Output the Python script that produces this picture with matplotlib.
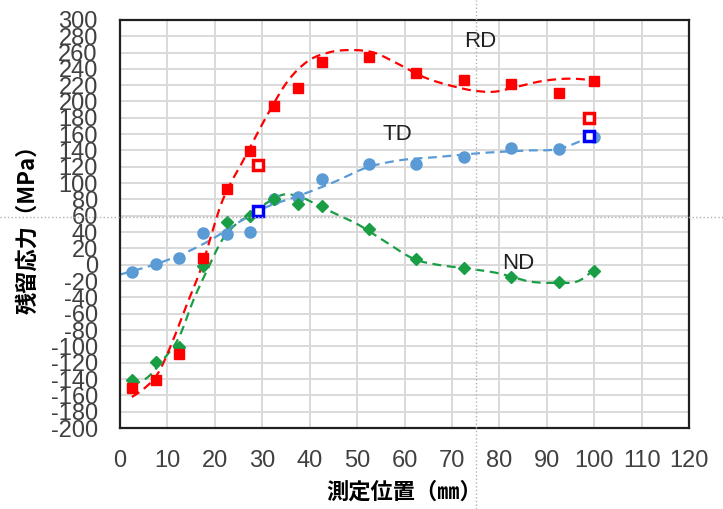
import numpy as np
import matplotlib
matplotlib.use('Agg')
from matplotlib import pyplot as plt
from matplotlib.lines import Line2D

plt.rcParams['axes.unicode_minus'] = False

# measurement positions (mm)
pos = [2.5, 7.5, 12.5, 17.5, 22.5, 27.5, 32.5, 37.5, 42.5, 52.5, 62.5, 72.5, 82.5, 92.5, 100]
rd = [-151, -141, -109, 8, 93, 139, 195, 217, 248, 255, 235, 226, 222, 210, 225]
td = [-9, 1, 8, 39, 38, 40, 81, 83, 105, 123, 123, 132, 143, 142, 157]
nd = [-141, -119, -101, -1, 52, 60, 81, 74, 72, 44, 7, -4, -15, -21, -8]

# open markers (separate measurement)
open_pos = [29, 99]
open_rd = [122, 180]
open_td = [66, 158]

# dashed trend curves
rd_trend_x = [2.5, 5, 8, 11, 14, 17, 21.5, 26, 31.5, 35, 39.5, 44, 49, 53.5, 58, 64, 70, 75, 79, 83, 89, 95, 100]
rd_trend_y = [-162, -152, -133, -95, -50, -6, 77, 128, 188, 222, 249, 260, 263, 260, 248, 230, 219, 213, 212, 217, 225, 228, 226]
td_trend_x = [0, 5.5, 11, 15, 19, 25, 31, 37, 45, 52, 59, 67, 76.5, 86, 92.5, 96.5, 99]
td_trend_y = [-12, -3, 8, 18, 30, 52, 71, 83, 101, 119, 128, 132, 137, 140, 142, 150, 157]
nd_trend_x = [2.5, 6, 9, 12.5, 15.5, 18.5, 21.5, 24.5, 27.5, 31, 34.5, 38.5, 42, 46, 50, 55.5, 62.5, 67, 72.5, 79.5, 87, 92, 97, 100]
nd_trend_y = [-148, -137, -117, -88, -43, -5, 30, 50, 61, 76, 86, 82, 72, 61, 50, 30, 6, 0, -4, -10, -21, -22, -19, -6]

labels = ['RD', 'TD', 'ND']
label_x = [76, 58.5, 84]
label_y = [273, 159, 2]
xticks = list(range(0, 121, 10))
yticks = list(range(-200, 301, 20))

red = '#ff0000'
blue = '#5b9bd5'
green = '#1a9e45'
tick_font = ['Liberation Sans Narrow', 'Liberation Sans', 'DejaVu Sans']
jp_font = ['Noto Sans CJK JP', 'DejaVu Sans']


def smooth(xk, yk, n=20):
    # cardinal (Hermite) spline through the knots, like Excel's smoothed line
    xk = np.asarray(xk, float)
    yk = np.asarray(yk, float)
    m = np.gradient(yk, xk)
    xs, ys = [], []
    for i in range(len(xk) - 1):
        h = xk[i + 1] - xk[i]
        t = np.linspace(0, 1, n, endpoint=False)
        h00 = 2 * t**3 - 3 * t**2 + 1
        h10 = t**3 - 2 * t**2 + t
        h01 = -2 * t**3 + 3 * t**2
        h11 = t**3 - t**2
        xs.append(xk[i] + t * h)
        ys.append(h00 * yk[i] + h10 * h * m[i] + h01 * yk[i + 1] + h11 * h * m[i + 1])
    xs.append([xk[-1]])
    ys.append([yk[-1]])
    return np.concatenate(xs), np.concatenate(ys)


fig = plt.figure(figsize=(7.23, 5.09), dpi=100)
ax = fig.add_axes([0.166, 0.159, 0.787, 0.802])

dash = (0, (4, 2.5))
for xk, yk, c in [(nd_trend_x, nd_trend_y, green), (td_trend_x, td_trend_y, blue),
                  (rd_trend_x, rd_trend_y, red)]:
    xs, ys = smooth(xk, yk)
    ax.plot(xs, ys, color=c, lw=1.6, linestyle=dash, zorder=2)

ax.plot(pos, td, 'o', color=blue, ms=8, zorder=3)
ax.plot(pos, nd, 'D', color=green, ms=6.5, zorder=3)
ax.plot(pos, rd, 's', color=red, ms=7.5, zorder=4)
ax.plot(open_pos, open_rd, 's', mfc='white', mec=red, mew=2.5, ms=7, zorder=5)
ax.plot(open_pos, open_td, 's', mfc='white', mec='#0000ff', mew=2.5, ms=7, zorder=5)

for t, lx, ly in zip(labels, label_x, label_y):
    ax.text(lx, ly, t, fontsize=16, family=tick_font, ha='center', va='center',
            color='#202020', zorder=6)

ax.set_xlim(0, 120)
ax.set_ylim(-200, 300)
ax.set_xticks(xticks)
ax.set_yticks(yticks)
ax.set_xticklabels([str(v) for v in xticks], family=tick_font, fontsize=17, color='#404040')
ax.set_yticklabels([str(v) for v in yticks], family=tick_font, fontsize=17, color='#404040')
ax.tick_params(length=0, pad=16)
ax.grid(True, color='#d9d9d9', lw=1.4)
ax.set_axisbelow(True)
for s in ax.spines.values():
    s.set_color('#202020')
    s.set_linewidth(1.6)

ax.set_xlabel('測定位置（㎜）', family=jp_font, fontsize=16, weight='bold', labelpad=6)
ax.set_ylabel('残留応力（MPa）', family=jp_font, fontsize=16, weight='bold', labelpad=8)

# dotted guide lines across the whole picture
fig.add_artist(Line2D([0, 1], [0.574, 0.574], transform=fig.transFigure,
                      color='#b0b0b0', lw=1, linestyle=':', zorder=0.5))
fig.add_artist(Line2D([0.658, 0.658], [0, 1], transform=fig.transFigure,
                      color='#b0b0b0', lw=1, linestyle=':', zorder=0.5))

plt.savefig('out.png')
